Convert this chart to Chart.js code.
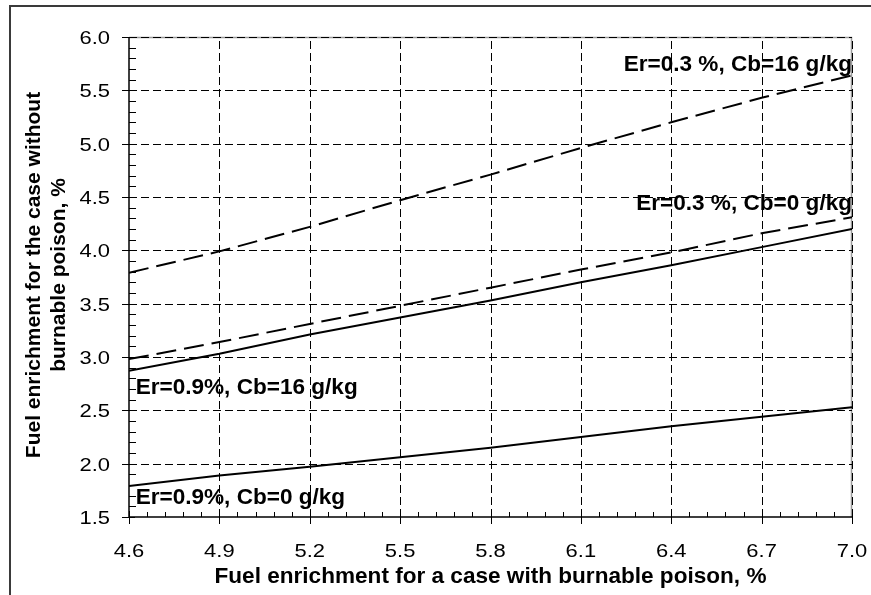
<!DOCTYPE html>
<html>
<head>
<meta charset="utf-8">
<script src="https://cdn.jsdelivr.net/npm/chart.js@4.4.1/dist/chart.umd.min.js"></script>
<style>
  html, body { margin: 0; padding: 0; background: #fff; }
  canvas { display: block; }
</style>
</head>
<body>
<canvas id="chart" width="871" height="595"></canvas>
<script>
// enrichment with burnable poison, %
const xValues = [4.6, 4.9, 5.2, 5.5, 5.8, 6.1, 6.4, 6.7, 7.0];

// enrichment without burnable poison, %
const er03cb16 = [3.79, 3.99, 4.22, 4.47, 4.71, 4.96, 5.20, 5.43, 5.64];
const er03cb0 = [2.98, 3.14, 3.31, 3.48, 3.65, 3.82, 3.98, 4.16, 4.31];
const er09cb16 = [2.87, 3.03, 3.21, 3.37, 3.53, 3.70, 3.86, 4.03, 4.20];
const er09cb0 = [1.79, 1.89, 1.97, 2.06, 2.15, 2.25, 2.35, 2.44, 2.53];

const xTicks = [4.6, 4.9, 5.2, 5.5, 5.8, 6.1, 6.4, 6.7, 7.0];
const yTicks = [1.5, 2.0, 2.5, 3.0, 3.5, 4.0, 4.5, 5.0, 5.5, 6.0];

const seriesNames = ['Er=0.3 %, Cb=16 g/kg', 'Er=0.3 %, Cb=0 g/kg', 'Er=0.9%, Cb=16 g/kg', 'Er=0.9%, Cb=0 g/kg'];

const FONT = '"Liberation Sans", Arial, sans-serif';
const TICK_FONT = '18px ' + FONT;
const BOLD_FONT = 'bold 21.5px ' + FONT;
const YTITLE_FONT = 'bold 21px ' + FONT;

function pts(ys) {
  return xValues.map((x, i) => ({ x: x, y: ys[i] }));
}

function series(label, ys, dashed) {
  return {
    label: label,
    data: pts(ys),
    borderColor: '#000',
    borderWidth: 2,
    borderDash: dashed ? [20, 8] : [],
    pointRadius: 0,
    tension: 0,
    fill: false
  };
}

// where the curve labels sit, in data units
const curveLabels = [
  { text: seriesNames[0], x: 7.0, y: 5.74, align: 'right' },
  { text: seriesNames[1], x: 7.0, y: 4.43, align: 'right' },
  { text: seriesNames[2], x: 4.622, y: 2.71, align: 'left' },
  { text: seriesNames[3], x: 4.622, y: 1.68, align: 'left' }
];

// the picture's text is a bit wider than tall
function wideText(ctx, text, x, y, sx) {
  ctx.save();
  ctx.translate(x, y);
  ctx.scale(sx, 1);
  ctx.fillText(text, 0, 0);
  ctx.restore();
}

// grid, ticks, labels, titles and frame
const decor = {
  id: 'decor',
  beforeDatasetsDraw(chart) {
    const ctx = chart.ctx;
    const xs = chart.scales.x, ys = chart.scales.y;
    const a = chart.chartArea;
    ctx.save();
    // grey plot border (top, right)
    ctx.strokeStyle = '#9a9a9a';
    ctx.lineWidth = 1.5;
    ctx.beginPath();
    ctx.moveTo(a.left, a.top + 0.5);
    ctx.lineTo(a.right - 0.5, a.top + 0.5);
    ctx.lineTo(a.right - 0.5, a.bottom);
    ctx.stroke();
    // dashed grid
    ctx.strokeStyle = '#000';
    ctx.lineWidth = 1;
    ctx.setLineDash([8, 4]);
    xTicks.slice(1).forEach(v => {
      const px = Math.round(xs.getPixelForValue(v)) + 0.5;
      ctx.beginPath();
      ctx.moveTo(px, a.bottom);
      ctx.lineTo(px, a.top);
      ctx.stroke();
    });
    yTicks.slice(1).forEach(v => {
      const py = Math.round(ys.getPixelForValue(v)) + 0.5;
      ctx.beginPath();
      ctx.moveTo(a.left, py);
      ctx.lineTo(a.right, py);
      ctx.stroke();
    });
    ctx.restore();
  },
  afterDatasetsDraw(chart) {
    const ctx = chart.ctx;
    const xs = chart.scales.x, ys = chart.scales.y;
    const a = chart.chartArea;
    ctx.save();
    ctx.setLineDash([]);
    ctx.strokeStyle = '#000';
    ctx.lineWidth = 1.5;
    // axes
    ctx.beginPath();
    ctx.moveTo(a.left, a.top);
    ctx.lineTo(a.left, a.bottom);
    ctx.lineTo(a.right, a.bottom);
    ctx.stroke();
    // tick marks
    ctx.lineWidth = 1;
    yTicks.forEach((v, i) => {
      const py = Math.round(ys.getPixelForValue(v)) + 0.5;
      ctx.beginPath();
      ctx.moveTo(a.left - 7, py);
      ctx.lineTo(a.left + 6, py);
      ctx.stroke();
      if (i < yTicks.length - 1) {
        const step = (yTicks[i + 1] - v) / 5;
        for (let k = 1; k < 5; k++) {
          const my = Math.round(ys.getPixelForValue(v + k * step)) + 0.5;
          ctx.beginPath();
          ctx.moveTo(a.left, my);
          ctx.lineTo(a.left + 7, my);
          ctx.stroke();
        }
      }
    });
    xTicks.forEach((v, i) => {
      const px = Math.round(xs.getPixelForValue(v)) + 0.5;
      ctx.beginPath();
      ctx.moveTo(px, a.bottom - 6);
      ctx.lineTo(px, a.bottom + 7);
      ctx.stroke();
      if (i < xTicks.length - 1) {
        const step = (xTicks[i + 1] - v) / 5;
        for (let k = 1; k < 5; k++) {
          const mx = Math.round(xs.getPixelForValue(v + k * step)) + 0.5;
          ctx.beginPath();
          ctx.moveTo(mx, a.bottom - 5);
          ctx.lineTo(mx, a.bottom);
          ctx.stroke();
        }
      }
    });
    // tick labels
    ctx.fillStyle = '#000';
    ctx.font = TICK_FONT;
    ctx.textBaseline = 'middle';
    ctx.textAlign = 'right';
    yTicks.forEach(v => {
      wideText(ctx, v.toFixed(1), a.left - 19, ys.getPixelForValue(v) + 2, 1.22);
    });
    ctx.textAlign = 'center';
    xTicks.forEach(v => {
      wideText(ctx, v.toFixed(1), xs.getPixelForValue(v), a.bottom + 35, 1.22);
    });
    // curve labels
    ctx.font = BOLD_FONT;
    curveLabels.forEach(l => {
      ctx.textAlign = l.align;
      wideText(ctx, l.text, xs.getPixelForValue(l.x), ys.getPixelForValue(l.y), 1.05);
    });
    // axis titles
    ctx.textAlign = 'center';
    wideText(ctx, 'Fuel enrichment for a case with burnable poison, %', (a.left + a.right) / 2, a.bottom + 60, 1.05);
    ctx.font = YTITLE_FONT;
    ctx.save();
    ctx.translate(0, (a.top + a.bottom) / 2 - 2);
    ctx.rotate(-Math.PI / 2);
    ctx.fillText('Fuel enrichment for the case without', 0, 34);
    ctx.fillText('burnable poison, %', 0, 59);
    ctx.restore();
    // outer frame
    ctx.strokeStyle = '#3a3a3a';
    ctx.lineWidth = 2;
    ctx.beginPath();
    ctx.moveTo(10, chart.height);
    ctx.lineTo(10, 6);
    ctx.lineTo(chart.width, 6);
    ctx.stroke();
    ctx.restore();
  }
};

new Chart(document.getElementById('chart'), {
  type: 'line',
  data: {
    datasets: [
      series(seriesNames[0], er03cb16, true),
      series(seriesNames[1], er03cb0, true),
      series(seriesNames[2], er09cb16, false),
      series(seriesNames[3], er09cb0, false)
    ]
  },
  options: {
    responsive: false,
    animation: false,
    devicePixelRatio: 1,
    layout: { padding: { left: 0, top: 37, right: 19, bottom: 0 } },
    plugins: { legend: { display: false }, tooltip: { enabled: false } },
    scales: {
      x: {
        type: 'linear',
        min: 4.6,
        max: 7.0,
        grid: { display: false, drawTicks: false },
        border: { display: false },
        ticks: { display: false },
        afterBuildTicks: s => { s.ticks = xTicks.map(v => ({ value: v })); },
        afterFit: s => { s.height = 78; }
      },
      y: {
        min: 1.5,
        max: 6.0,
        grid: { display: false, drawTicks: false },
        border: { display: false },
        ticks: { display: false },
        afterBuildTicks: s => { s.ticks = yTicks.map(v => ({ value: v })); },
        afterFit: s => { s.width = 129; }
      }
    }
  },
  plugins: [decor]
});
</script>
</body>
</html>
